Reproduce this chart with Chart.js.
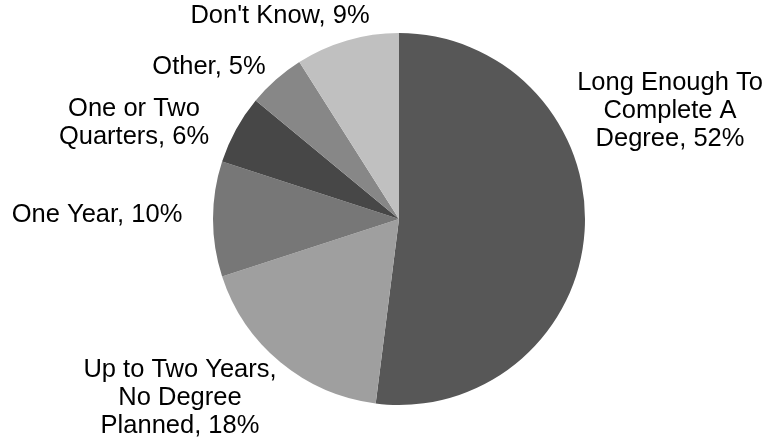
<!DOCTYPE html>
<html>
<head>
<meta charset="utf-8">
<script src="https://cdn.jsdelivr.net/npm/chart.js@4/dist/chart.umd.min.js"></script>
<style>
  html, body { margin: 0; padding: 0; background: #ffffff; }
  #wrap { width: 766px; height: 443px; position: relative; }
</style>
</head>
<body>
<div id="wrap"><canvas id="c" width="766" height="443"></canvas></div>
<script>
const categories = [
  "Long Enough To Complete A Degree",
  "Up to Two Years, No Degree Planned",
  "One Year",
  "One or Two Quarters",
  "Other",
  "Don't Know"
];
const values = [52, 18, 10, 6, 5, 9];
const labelLines = [
  ["Long Enough To", "Complete A", "Degree, 52%"],
  ["Up to Two Years,", "No Degree", "Planned, 18%"],
  ["One Year, 10%"],
  ["One or Two", "Quarters, 6%"],
  ["Other, 5%"],
  ["Don't Know, 9%"]
];
const colors = ["#575757", "#9f9f9f", "#777777", "#474747", "#878787", "#c0c0c0"];

// label centre offsets relative to the pie centre (layout only)
const labelOffsets = [
  [271, -108],
  [-219, 179],
  [-302, -4],
  [-265, -96],
  [-190, -152],
  [-119, -203]
];

const labelPlugin = {
  id: 'pieLabels',
  afterDatasetsDraw(chart) {
    const ctx = chart.ctx;
    const meta = chart.getDatasetMeta(0);
    const arc = meta.data[0];
    const cx = arc.x, cy = arc.y;
    ctx.save();
    ctx.fillStyle = '#000000';
    ctx.font = '25.5px "Liberation Sans", Arial, sans-serif';
    ctx.textAlign = 'center';
    ctx.textBaseline = 'middle';
    const lh = 28;
    labelLines.forEach((lines, i) => {
      const ox = cx + labelOffsets[i][0];
      const oy = cy + labelOffsets[i][1];
      const start = oy - (lines.length - 1) * lh / 2;
      lines.forEach((t, j) => ctx.fillText(t, ox, start + j * lh));
    });
    ctx.restore();
  }
};

new Chart(document.getElementById('c'), {
  type: 'pie',
  data: {
    labels: categories,
    datasets: [{
      data: values,
      backgroundColor: colors,
      borderWidth: 0
    }]
  },
  options: {
    responsive: false,
    animation: false,
    layout: { padding: { top: 33, bottom: 38, left: 213, right: 181 } },
    plugins: {
      legend: { display: false },
      tooltip: { enabled: false }
    }
  },
  plugins: [labelPlugin]
});
</script>
</body>
</html>
